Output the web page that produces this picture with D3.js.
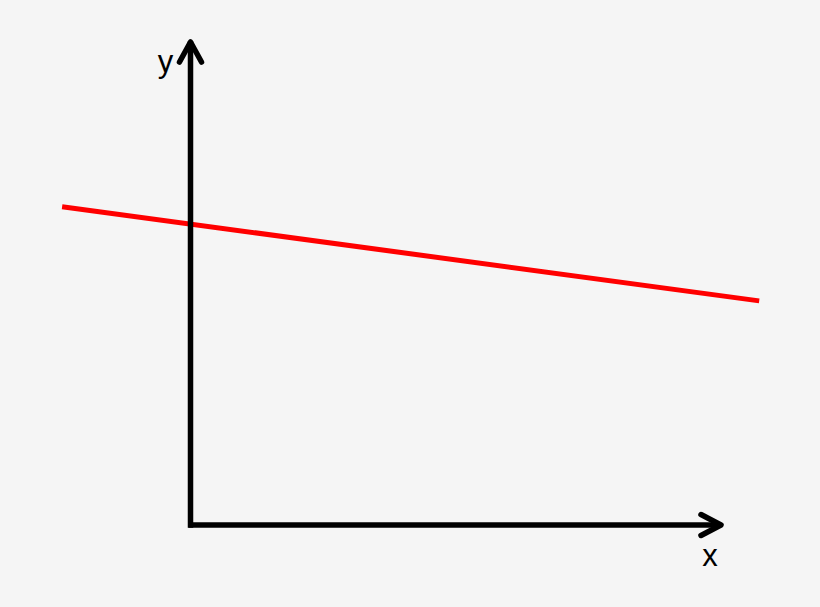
<!DOCTYPE html>
<html>
<head>
<meta charset="utf-8">
<script src="https://cdn.jsdelivr.net/npm/d3@7"></script>
<style>
  html, body { margin: 0; padding: 0; background: #f5f5f5; }
  svg { display: block; }
</style>
</head>
<body>
<svg id="chart" width="820" height="607"></svg>
<script>
// Data (abstract units: axes run 0..100)
const axisLabels = ["x", "y"];
const lineX = [-24.2, 107.2];
const lineY = [65.9, 46.4];
const axisMax = [100, 100];

const width = 820, height = 607;
const svg = d3.select("#chart");
svg.append("rect").attr("width", width).attr("height", height).attr("fill", "#f5f5f5");

const x = d3.scaleLinear().domain([0, axisMax[0]]).range([190.5, 721]);
const y = d3.scaleLinear().domain([0, axisMax[1]]).range([525, 42]);

// Red line
const pts = lineX.map((v, i) => [v, lineY[i]]);
svg.append("path")
  .datum(pts)
  .attr("d", d3.line().x(d => x(d[0])).y(d => y(d[1])))
  .attr("fill", "none")
  .attr("stroke", "#ff0000")
  .attr("stroke-width", 5);

const axisG = svg.append("g")
  .attr("fill", "none")
  .attr("stroke", "#000")
  .attr("stroke-width", 5.5)
  .attr("stroke-linecap", "round")
  .attr("stroke-linejoin", "round");

const ox = x(0), oy = y(0);
// Y axis line
axisG.append("path").attr("d", d3.line()([[ox, oy], [ox, y(axisMax[1]) + 2]])).attr("stroke-linecap", "square");
// Y arrowhead
const ty = y(axisMax[1]);
axisG.append("path").attr("d", d3.line()([[ox - 11, ty + 20], [ox, ty], [ox + 11, ty + 20]]));
// X axis line
axisG.append("path").attr("d", d3.line()([[ox - 2, oy], [x(axisMax[0]) - 2, oy]])).attr("stroke-linecap", "butt");
// X arrowhead
const tx = x(axisMax[0]);
axisG.append("path").attr("d", d3.line()([[tx - 20, oy - 10.5], [tx, oy], [tx - 20, oy + 10.5]]));

// Axis labels
svg.append("text")
  .attr("x", x(axisMax[0]) - 11)
  .attr("y", oy + 41)
  .attr("text-anchor", "middle")
  .attr("font-family", "Liberation Sans, Arial, sans-serif")
  .attr("font-size", 31)
  .attr("fill", "#000")
  .text(axisLabels[0]);

svg.append("text")
  .attr("x", ox - 25)
  .attr("y", y(axisMax[1]) + 30)
  .attr("text-anchor", "middle")
  .attr("font-family", "Liberation Sans, Arial, sans-serif")
  .attr("font-size", 31)
  .attr("fill", "#000")
  .text(axisLabels[1]);
</script>
</body>
</html>
